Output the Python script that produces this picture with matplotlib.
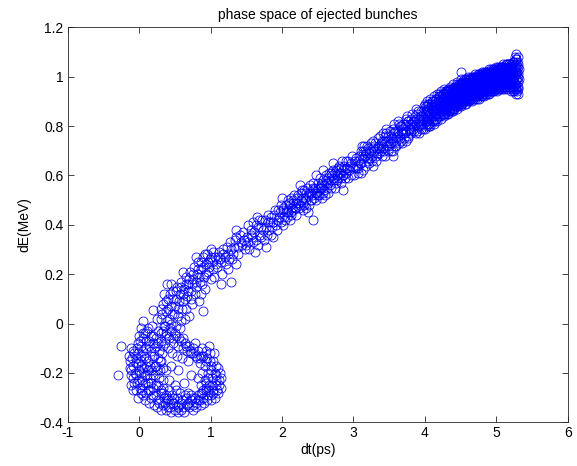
import numpy as np
import matplotlib
matplotlib.use("Agg")
import matplotlib.pyplot as plt
from matplotlib.ticker import FormatStrFormatter

plt.rcParams['font.family'] = ['Liberation Sans', 'DejaVu Sans']
plt.rcParams['axes.unicode_minus'] = False

# --- points (dt in ps, dE in MeV) ---

# left part of the loop
loop_pts = [
    (-0.12, -0.10), (-0.10, -0.14), (-0.13, -0.18), (-0.08, -0.22), (-0.11, -0.25),
    (-0.05, -0.27), (-0.02, -0.30), (-0.07, -0.12), (-0.04, -0.16), (-0.06, -0.20),
    (0.00, -0.05), (0.02, -0.09), (-0.01, -0.12), (0.03, -0.15), (0.00, -0.19),
    (0.04, -0.23), (0.01, -0.26), (0.05, -0.29), (0.08, -0.31), (0.03, -0.02),
    (0.06, -0.06), (0.09, -0.10), (0.07, -0.13), (0.10, -0.17), (0.08, -0.21),
    (0.12, -0.24), (0.10, -0.28), (0.14, -0.32), (0.05, 0.01), (0.11, -0.03),
    (0.14, -0.07), (0.16, -0.11), (0.13, -0.15), (0.17, -0.19), (0.15, -0.22),
    (0.19, -0.26), (0.17, -0.30), (0.21, -0.33), (0.18, -0.01), (0.20, -0.05),
    (0.23, -0.09), (0.21, -0.13), (0.24, -0.17), (0.22, -0.21), (0.26, -0.25),
    (0.24, -0.29), (0.28, -0.32), (0.25, 0.02), (0.27, -0.03), (0.30, -0.07),
    (0.28, -0.11), (0.31, -0.15), (0.29, -0.19), (0.33, -0.23), (0.31, -0.27),
    (0.35, -0.30), (0.32, 0.04), (0.35, -0.01), (0.37, -0.05), (0.34, -0.09),
    (-0.02, -0.08), (0.02, -0.17), (0.06, -0.25), (0.12, -0.19), (0.15, -0.27),
    (0.19, -0.08), (0.26, -0.14), (0.08, -0.04), (-0.09, -0.17), (-0.03, -0.24),
    (-0.09, -0.27), (0.02, -0.28), (-0.14, -0.13), (-0.12, -0.21),
    (-0.13, -0.15), (-0.11, -0.19), (-0.09, -0.11), (-0.07, -0.24), (-0.05, -0.14),
    (-0.04, -0.21), (-0.03, -0.10), (-0.01, -0.16), (0.00, -0.23), (0.01, -0.07),
    (0.02, -0.13), (0.03, -0.20), (0.04, -0.27), (0.05, -0.04), (0.06, -0.11),
    (0.07, -0.18), (0.08, -0.24), (0.09, -0.07), (0.10, -0.14), (0.11, -0.21),
    (0.12, -0.27), (0.13, -0.02), (0.14, -0.09), (0.15, -0.17), (0.16, -0.24),
    (0.17, -0.05), (0.18, -0.13), (0.19, -0.21), (0.20, -0.29), (0.21, -0.10),
    (0.22, -0.17), (0.23, -0.25), (0.24, -0.06), (0.25, -0.19), (0.26, -0.31),
    (0.27, -0.08), (0.28, -0.22), (0.29, -0.15), (0.30, -0.28), (0.31, -0.04),
    (0.32, -0.12), (0.33, -0.26), (0.34, -0.18), (0.36, -0.08), (0.36, -0.32),
]

# bottom and right side of the loop
loop_bottom = [
    (0.30, -0.35), (0.34, -0.33), (0.38, -0.35), (0.40, -0.31), (0.43, -0.34),
    (0.46, -0.29), (0.48, -0.32), (0.50, -0.35), (0.53, -0.30), (0.55, -0.33),
    (0.58, -0.35), (0.60, -0.31), (0.62, -0.34), (0.65, -0.30), (0.67, -0.33),
    (0.70, -0.34), (0.72, -0.31), (0.75, -0.33), (0.78, -0.30), (0.80, -0.32),
    (0.83, -0.29), (0.85, -0.31), (0.88, -0.28), (0.90, -0.30), (0.93, -0.27),
    (0.37, -0.29), (0.42, -0.27), (0.52, -0.27), (0.57, -0.28), (0.68, -0.28),
    (0.25, -0.34), (0.45, -0.36), (0.63, -0.36), (0.76, -0.35), (0.33, -0.28),
    (0.47, -0.32), (0.73, -0.29), (0.87, -0.33), (0.96, -0.29), (0.55, -0.36),
    (0.95, -0.31), (1.00, -0.29), (1.04, -0.27), (1.08, -0.25), (1.12, -0.23),
    (1.15, -0.26), (0.98, -0.25), (1.02, -0.22), (1.06, -0.20), (1.10, -0.18),
    (0.92, -0.23), (0.96, -0.20), (1.00, -0.17), (1.04, -0.15), (1.08, -0.21),
    (0.88, -0.20), (0.92, -0.17), (0.95, -0.14), (0.99, -0.12), (0.85, -0.16),
    (0.90, -0.13), (0.94, -0.11), (1.02, -0.25), (1.11, -0.28), (1.06, -0.30),
    (0.97, -0.27), (0.86, -0.25), (0.83, -0.22), (1.13, -0.20), (1.05, -0.12),
    (0.98, -0.09), (0.89, -0.27), (1.01, -0.31), (0.93, -0.26), (1.07, -0.17),
    (0.39, -0.30), (0.41, -0.34), (0.44, -0.31), (0.49, -0.30), (0.54, -0.34),
    (0.59, -0.32), (0.64, -0.29), (0.69, -0.32), (0.74, -0.30), (0.79, -0.34),
    (0.82, -0.31), (0.86, -0.28), (0.91, -0.32), (0.94, -0.24), (0.97, -0.22),
    (1.01, -0.19), (1.03, -0.28), (1.07, -0.23), (1.09, -0.27), (1.12, -0.25),
    (1.14, -0.22), (0.99, -0.15), (0.93, -0.15), (0.87, -0.13), (0.81, -0.14),
]

# upper edge of the loop and the few points inside it
loop_top = [
    (0.38, -0.04), (0.42, -0.06), (0.45, -0.03), (0.48, -0.08), (0.52, -0.05),
    (0.55, -0.09), (0.58, -0.07), (0.61, -0.10), (0.64, -0.08), (0.67, -0.11),
    (0.70, -0.09), (0.73, -0.12), (0.76, -0.10), (0.79, -0.13), (0.82, -0.11),
    (0.85, -0.14), (0.88, -0.10), (0.40, -0.10), (0.46, -0.12), (0.53, -0.13),
    (0.60, -0.14), (0.78, -0.08), (0.69, -0.15), (0.57, -0.02), (0.44, 0.00),
    (0.75, -0.12), (0.71, -0.11), (0.66, -0.09), (0.62, -0.06), (0.56, -0.06),
    (0.50, -0.04), (0.47, -0.06), (0.43, -0.02),
    (0.45, -0.17), (0.55, -0.19), (0.42, -0.23), (0.72, -0.21), (0.50, -0.25),
    (0.63, -0.24), (0.38, -0.19),
]

# rising band, dt 0.3 .. 1.5
band_low = [
    (0.30, 0.02), (0.33, 0.08), (0.36, -0.01), (0.38, 0.05), (0.40, 0.10),
    (0.42, 0.02), (0.45, 0.07), (0.47, 0.13), (0.49, 0.04), (0.51, 0.10),
    (0.53, 0.15), (0.55, 0.06), (0.57, 0.12), (0.59, 0.17), (0.61, 0.09),
    (0.63, 0.14), (0.65, 0.19), (0.67, 0.11), (0.69, 0.16), (0.71, 0.21),
    (0.73, 0.13), (0.75, 0.18), (0.77, 0.23), (0.79, 0.15), (0.81, 0.20),
    (0.83, 0.25), (0.85, 0.17), (0.87, 0.22), (0.89, 0.27), (0.91, 0.19),
    (0.93, 0.24), (0.95, 0.28), (0.97, 0.21), (0.99, 0.26), (1.01, 0.30),
    (1.03, 0.22), (1.06, 0.27), (1.09, 0.23), (1.12, 0.29), (1.15, 0.25),
    (1.18, 0.30), (1.21, 0.24), (1.24, 0.28), (1.27, 0.33), (1.30, 0.26),
    (1.33, 0.31), (1.36, 0.35), (1.39, 0.28), (1.42, 0.33), (1.45, 0.37),
    (1.48, 0.30), (1.51, 0.35), (0.35, 0.12), (0.58, 0.01), (0.66, 0.06),
    (0.74, 0.08), (0.86, 0.12), (0.92, 0.14), (1.05, 0.19), (1.25, 0.22),
    (0.44, 0.16), (0.62, 0.21), (0.80, 0.27), (1.00, 0.18), (1.16, 0.20),
    (1.35, 0.24), (0.52, -0.01), (0.70, 0.03),
    (0.31, 0.06), (0.34, -0.03), (0.37, 0.09), (0.39, 0.01), (0.41, 0.06),
    (0.43, 0.12), (0.46, 0.04), (0.48, 0.10), (0.50, 0.07), (0.52, 0.13),
    (0.54, 0.03), (0.56, 0.09), (0.58, 0.15), (0.60, 0.06), (0.62, 0.12),
    (0.64, 0.10), (0.66, 0.16), (0.68, 0.13), (0.70, 0.18), (0.72, 0.10),
    (0.74, 0.16), (0.76, 0.20), (0.78, 0.12), (0.80, 0.17), (0.82, 0.22),
    (0.84, 0.19), (0.86, 0.25), (0.88, 0.16), (0.90, 0.23), (0.92, 0.28),
    (0.94, 0.20), (0.96, 0.25), (0.98, 0.23), (1.00, 0.27), (1.02, 0.25),
    (1.04, 0.29), (1.07, 0.24), (1.10, 0.27), (1.13, 0.26), (1.17, 0.28),
    (1.20, 0.27), (1.23, 0.31), (1.26, 0.26), (1.29, 0.30), (1.32, 0.28),
    (1.34, 0.34), (1.38, 0.31), (1.41, 0.36), (1.44, 0.32), (1.47, 0.34),
    (1.50, 0.32), (0.64, 0.02), (0.84, 0.09),
]

# band, dt 1.5 .. 3.0
band_mid = [
    (1.54, 0.30), (1.57, 0.38), (1.60, 0.33), (1.63, 0.40), (1.66, 0.32),
    (1.69, 0.36), (1.72, 0.42), (1.75, 0.34), (1.78, 0.39), (1.81, 0.44),
    (1.84, 0.36), (1.87, 0.41), (1.90, 0.46), (1.93, 0.38), (1.96, 0.43),
    (1.99, 0.48), (2.02, 0.40), (2.05, 0.45), (2.08, 0.50), (2.11, 0.42),
    (2.14, 0.47), (2.17, 0.52), (2.20, 0.44), (2.23, 0.49), (2.26, 0.53),
    (2.29, 0.46), (2.32, 0.51), (2.35, 0.55), (2.38, 0.48), (2.41, 0.53),
    (2.44, 0.57), (2.47, 0.50), (2.50, 0.55), (2.53, 0.59), (2.56, 0.51),
    (2.59, 0.56), (2.62, 0.60), (2.65, 0.53), (2.68, 0.58), (2.71, 0.62),
    (2.74, 0.55), (2.77, 0.60), (2.80, 0.64), (2.83, 0.57), (2.86, 0.62),
    (2.89, 0.66), (2.92, 0.59), (2.95, 0.64), (2.98, 0.68),
    (1.58, 0.35), (1.70, 0.39), (1.83, 0.41), (1.95, 0.46), (2.07, 0.43),
    (2.19, 0.49), (2.31, 0.48), (2.43, 0.54), (2.55, 0.55), (2.67, 0.56),
    (2.79, 0.59), (2.91, 0.63), (1.65, 0.43), (1.88, 0.35), (2.13, 0.51),
    (2.36, 0.45), (2.60, 0.52), (2.84, 0.66), (1.52, 0.40), (1.62, 0.29),
    (2.00, 0.51), (2.25, 0.56), (2.48, 0.60), (2.72, 0.65),
    (1.53, 0.33), (1.56, 0.36), (1.59, 0.41), (1.61, 0.37), (1.64, 0.34),
    (1.67, 0.39), (1.68, 0.42), (1.71, 0.35), (1.73, 0.38), (1.76, 0.42),
    (1.79, 0.36), (1.80, 0.41), (1.82, 0.38), (1.85, 0.43), (1.86, 0.39),
    (1.89, 0.44), (1.91, 0.40), (1.94, 0.42), (1.97, 0.45), (1.98, 0.41),
    (2.01, 0.46), (2.03, 0.43), (2.06, 0.48), (2.09, 0.45), (2.10, 0.49),
    (2.12, 0.44), (2.15, 0.50), (2.16, 0.46), (2.18, 0.47), (2.21, 0.51),
    (2.24, 0.47), (2.27, 0.50), (2.28, 0.54), (2.30, 0.49), (2.33, 0.53),
    (2.34, 0.47), (2.37, 0.52), (2.39, 0.56), (2.40, 0.50), (2.42, 0.52),
    (2.45, 0.51), (2.46, 0.55), (2.49, 0.53), (2.51, 0.57), (2.52, 0.52),
    (2.54, 0.56), (2.57, 0.58), (2.58, 0.53), (2.61, 0.57), (2.63, 0.55),
    (2.64, 0.59), (2.66, 0.61), (2.69, 0.55), (2.70, 0.60), (2.73, 0.58),
    (2.75, 0.62), (2.76, 0.57), (2.78, 0.63), (2.81, 0.61), (2.82, 0.59),
    (2.85, 0.60), (2.87, 0.64), (2.88, 0.59), (2.90, 0.61), (2.93, 0.66),
    (2.94, 0.62), (2.96, 0.60), (2.97, 0.65), (2.99, 0.63), (2.57, 0.62),
    (2.02, 0.47), (2.04, 0.42), (2.07, 0.46), (2.11, 0.48), (2.13, 0.45),
    (2.16, 0.49), (2.20, 0.47), (2.22, 0.52), (2.25, 0.48), (2.29, 0.51),
    (2.31, 0.54), (2.34, 0.50), (2.38, 0.53), (2.41, 0.50), (2.44, 0.55),
    (2.47, 0.53), (2.50, 0.52), (2.53, 0.55), (2.56, 0.57), (2.59, 0.54),
    (2.62, 0.58), (2.65, 0.57), (2.68, 0.61), (2.71, 0.59), (2.74, 0.61),
    (2.77, 0.58), (2.80, 0.61), (2.83, 0.63), (2.86, 0.60), (2.89, 0.63),
]

# band, dt 3.0 .. 4.3
band_high = [
    (3.01, 0.60), (3.04, 0.67), (3.07, 0.63), (3.10, 0.70), (3.13, 0.62),
    (3.16, 0.68), (3.19, 0.72), (3.22, 0.65), (3.25, 0.70), (3.28, 0.74),
    (3.31, 0.66), (3.34, 0.72), (3.37, 0.76), (3.40, 0.68), (3.43, 0.74),
    (3.46, 0.77), (3.49, 0.70), (3.52, 0.76), (3.55, 0.79), (3.58, 0.72),
    (3.61, 0.78), (3.64, 0.81), (3.67, 0.74), (3.70, 0.79), (3.73, 0.83),
    (3.76, 0.76), (3.79, 0.81), (3.82, 0.85), (3.85, 0.78), (3.88, 0.83),
    (3.91, 0.86), (3.94, 0.79), (3.97, 0.84),
    (3.05, 0.64), (3.12, 0.68), (3.20, 0.66), (3.27, 0.71), (3.33, 0.69),
    (3.40, 0.74), (3.47, 0.72), (3.53, 0.73), (3.60, 0.75), (3.66, 0.78),
    (3.72, 0.77), (3.78, 0.79), (3.84, 0.82), (3.90, 0.80), (3.96, 0.82),
    (3.15, 0.72), (3.35, 0.75), (3.55, 0.70), (3.75, 0.84), (3.92, 0.77),
    (3.10, 0.61), (3.45, 0.79), (3.62, 0.82),
    (3.02, 0.66), (3.06, 0.61), (3.08, 0.68), (3.11, 0.65), (3.14, 0.70),
    (3.17, 0.64), (3.18, 0.69), (3.21, 0.71), (3.23, 0.67), (3.26, 0.66),
    (3.29, 0.70), (3.30, 0.73), (3.32, 0.68), (3.36, 0.71), (3.38, 0.73),
    (3.39, 0.70), (3.42, 0.71), (3.44, 0.76), (3.48, 0.74), (3.50, 0.72),
    (3.51, 0.78), (3.54, 0.75), (3.57, 0.77), (3.59, 0.74), (3.63, 0.76),
    (3.65, 0.80), (3.68, 0.77), (3.69, 0.81), (3.71, 0.75), (3.74, 0.80),
    (3.77, 0.82), (3.80, 0.78), (3.81, 0.83), (3.83, 0.80), (3.86, 0.84),
    (3.87, 0.81), (3.89, 0.78), (3.93, 0.83), (3.95, 0.86), (3.98, 0.81),
    (3.24, 0.73), (3.41, 0.77), (3.57, 0.81), (3.73, 0.74), (3.88, 0.87),
    (3.99, 0.88), (3.64, 0.73), (3.44, 0.68), (3.28, 0.64), (3.12, 0.72),
    (3.03, 0.63), (3.06, 0.66), (3.09, 0.65), (3.13, 0.67), (3.16, 0.70),
    (3.19, 0.67), (3.22, 0.69), (3.26, 0.68), (3.29, 0.72), (3.33, 0.71),
    (3.36, 0.69), (3.39, 0.72), (3.43, 0.70), (3.46, 0.74), (3.49, 0.76),
    (3.51, 0.73), (3.53, 0.70), (3.56, 0.74), (3.58, 0.78), (3.60, 0.72),
    (3.62, 0.77), (3.65, 0.75), (3.67, 0.80), (3.68, 0.73), (3.70, 0.77),
    (3.72, 0.81), (3.74, 0.78), (3.76, 0.82), (3.77, 0.75), (3.79, 0.79),
    (3.81, 0.77), (3.82, 0.81), (3.84, 0.79), (3.86, 0.82), (3.87, 0.77),
    (3.89, 0.85), (3.90, 0.82), (3.92, 0.80), (3.94, 0.84), (3.95, 0.81),
    (3.97, 0.79), (3.98, 0.86), (4.01, 0.82), (4.03, 0.86), (4.06, 0.83),
    (4.08, 0.88), (4.11, 0.84), (4.13, 0.89), (4.16, 0.85), (4.18, 0.90),
    (4.21, 0.86), (4.23, 0.91), (4.06, 0.80), (4.14, 0.82), (4.20, 0.93),
]

# dense end of the band, dt 4.0 .. 5.2
band_dt = [4.000, 4.025, 4.050, 4.075, 4.100, 4.125, 4.150, 4.175, 4.200, 4.225,
           4.250, 4.275, 4.300, 4.325, 4.350, 4.375, 4.400, 4.425, 4.450, 4.475,
           4.500, 4.525, 4.550, 4.575, 4.600, 4.625, 4.650, 4.675, 4.700, 4.725,
           4.750, 4.775, 4.800, 4.825, 4.850, 4.875, 4.900, 4.925, 4.950, 4.975,
           5.000, 5.025, 5.050, 5.075, 5.100, 5.125, 5.150, 5.175]
band_dE_low = [0.79, 0.80, 0.81, 0.80, 0.82, 0.81, 0.83, 0.82, 0.84, 0.83,
               0.85, 0.84, 0.86, 0.85, 0.86, 0.87, 0.86, 0.88, 0.87, 0.89,
               0.88, 0.89, 0.90, 0.89, 0.91, 0.90, 0.91, 0.91, 0.92, 0.91,
               0.92, 0.93, 0.92, 0.93, 0.93, 0.94, 0.93, 0.94, 0.95, 0.94,
               0.95, 0.95, 0.96, 0.95, 0.96, 0.96, 0.97, 0.96]
band_dE_mid = [0.85, 0.83, 0.86, 0.85, 0.87, 0.86, 0.88, 0.87, 0.89, 0.88,
               0.90, 0.89, 0.90, 0.91, 0.90, 0.92, 0.91, 0.93, 0.92, 0.93,
               0.94, 0.93, 0.95, 0.94, 0.95, 0.95, 0.96, 0.95, 0.96, 0.96,
               0.97, 0.96, 0.97, 0.98, 0.97, 0.98, 0.98, 0.99, 0.98, 0.99,
               0.99, 1.00, 0.99, 1.00, 1.00, 1.01, 1.00, 1.01]
band_dE_high = [0.89, 0.90, 0.89, 0.91, 0.90, 0.92, 0.91, 0.93, 0.92, 0.94,
                0.93, 0.95, 0.94, 0.95, 0.96, 0.95, 0.97, 0.96, 0.98, 0.97,
                0.99, 0.98, 0.99, 0.99, 1.00, 0.99, 1.00, 1.00, 1.01, 1.00,
                1.01, 1.01, 1.02, 1.01, 1.02, 1.02, 1.03, 1.02, 1.03, 1.03,
                1.04, 1.03, 1.04, 1.04, 1.05, 1.04, 1.05, 1.05]

band_dt2 = [4.012, 4.037, 4.063, 4.088, 4.112, 4.138, 4.162, 4.187, 4.213, 4.238,
            4.262, 4.288, 4.312, 4.337, 4.363, 4.388, 4.412, 4.437, 4.462, 4.487,
            4.512, 4.537, 4.563, 4.588, 4.612, 4.637, 4.662, 4.688, 4.712, 4.737,
            4.763, 4.788, 4.812, 4.837, 4.862, 4.887, 4.912, 4.937, 4.962, 4.988,
            5.012, 5.037, 5.062, 5.088, 5.112, 5.137, 5.162, 5.188]
band2_dE_a = [0.81, 0.82, 0.81, 0.83, 0.82, 0.84, 0.83, 0.85, 0.84, 0.86,
              0.85, 0.86, 0.87, 0.86, 0.88, 0.87, 0.89, 0.88, 0.89, 0.90,
              0.89, 0.91, 0.90, 0.91, 0.92, 0.91, 0.92, 0.93, 0.92, 0.93,
              0.93, 0.94, 0.93, 0.94, 0.95, 0.94, 0.95, 0.95, 0.96, 0.95,
              0.96, 0.96, 0.97, 0.96, 0.97, 0.97, 0.98, 0.97]
band2_dE_b = [0.83, 0.84, 0.85, 0.84, 0.86, 0.85, 0.86, 0.87, 0.87, 0.88,
              0.88, 0.89, 0.88, 0.89, 0.90, 0.90, 0.91, 0.91, 0.92, 0.91,
              0.92, 0.93, 0.93, 0.94, 0.93, 0.94, 0.94, 0.95, 0.95, 0.95,
              0.96, 0.96, 0.96, 0.97, 0.96, 0.97, 0.97, 0.98, 0.97, 0.98,
              0.98, 0.99, 0.98, 0.99, 0.99, 1.00, 0.99, 1.00]
band2_dE_c = [0.86, 0.87, 0.86, 0.88, 0.87, 0.89, 0.88, 0.89, 0.90, 0.90,
              0.91, 0.90, 0.91, 0.92, 0.92, 0.93, 0.93, 0.94, 0.94, 0.95,
              0.95, 0.95, 0.96, 0.96, 0.96, 0.97, 0.96, 0.97, 0.98, 0.97,
              0.98, 0.98, 0.99, 0.98, 0.99, 0.99, 1.00, 0.99, 1.00, 1.00,
              1.01, 1.00, 1.01, 1.01, 1.02, 1.01, 1.02, 1.02]
band2_dE_d = [0.88, 0.88, 0.89, 0.89, 0.90, 0.90, 0.91, 0.91, 0.92, 0.92,
              0.93, 0.93, 0.94, 0.94, 0.94, 0.95, 0.95, 0.96, 0.96, 0.96,
              0.97, 0.97, 0.98, 0.97, 0.98, 0.98, 0.99, 0.99, 0.99, 1.00,
              1.00, 1.00, 1.00, 1.01, 1.01, 1.01, 1.02, 1.01, 1.02, 1.02,
              1.02, 1.03, 1.03, 1.02, 1.03, 1.03, 1.04, 1.03]

# solid part of the band, dt 4.25 .. 5.2
band_dt3 = [4.256, 4.281, 4.306, 4.331, 4.356, 4.381, 4.406, 4.431, 4.456, 4.481,
            4.506, 4.531, 4.556, 4.581, 4.606, 4.631, 4.656, 4.681, 4.706, 4.731,
            4.756, 4.781, 4.806, 4.831, 4.856, 4.881, 4.906, 4.931, 4.956, 4.981,
            5.006, 5.031, 5.056, 5.081, 5.106, 5.131, 5.156, 5.181, 5.206]
band3_dE_e = [0.85, 0.85, 0.85, 0.86, 0.87, 0.86, 0.87, 0.88, 0.88, 0.88,
              0.89, 0.90, 0.89, 0.90, 0.90, 0.91, 0.90, 0.91, 0.91, 0.92,
              0.91, 0.92, 0.93, 0.92, 0.93, 0.93, 0.94, 0.94, 0.94, 0.95,
              0.94, 0.95, 0.95, 0.96, 0.95, 0.96, 0.95, 0.96, 0.96]
band3_dE_f = [0.87, 0.87, 0.88, 0.88, 0.89, 0.89, 0.90, 0.90, 0.90, 0.91,
              0.91, 0.91, 0.92, 0.92, 0.92, 0.93, 0.93, 0.93, 0.94, 0.94,
              0.94, 0.95, 0.95, 0.95, 0.95, 0.96, 0.96, 0.96, 0.97, 0.97,
              0.97, 0.97, 0.97, 0.98, 0.98, 0.98, 0.98, 0.98, 0.99]
band3_dE_g = [0.89, 0.90, 0.90, 0.91, 0.91, 0.91, 0.92, 0.92, 0.93, 0.93,
              0.94, 0.94, 0.94, 0.95, 0.95, 0.95, 0.95, 0.96, 0.96, 0.96,
              0.97, 0.97, 0.97, 0.98, 0.98, 0.98, 0.99, 0.99, 0.99, 0.99,
              1.00, 1.00, 1.00, 1.00, 1.00, 1.01, 1.01, 1.01, 1.00]
band3_dE_h = [0.91, 0.92, 0.92, 0.92, 0.93, 0.93, 0.94, 0.94, 0.95, 0.95,
              0.95, 0.96, 0.96, 0.97, 0.97, 0.97, 0.97, 0.98, 0.98, 0.98,
              0.99, 0.99, 0.99, 1.00, 1.00, 1.00, 1.00, 1.01, 1.01, 1.01,
              1.01, 1.02, 1.02, 1.02, 1.02, 1.03, 1.03, 1.03, 1.02]
band3_dE_i = [0.93, 0.94, 0.94, 0.94, 0.95, 0.95, 0.96, 0.96, 0.97, 0.97,
              0.97, 0.98, 0.98, 0.99, 0.99, 0.99, 0.99, 1.00, 1.00, 1.00,
              1.01, 1.01, 1.01, 1.02, 1.02, 1.02, 1.02, 1.03, 1.03, 1.03,
              1.03, 1.04, 1.04, 1.04, 1.04, 1.05, 1.05, 1.05, 1.04]

band_dt4 = [4.418, 4.443, 4.468, 4.493, 4.518, 4.543, 4.568, 4.593, 4.618, 4.643,
            4.668, 4.693, 4.718, 4.743, 4.768, 4.793, 4.818, 4.843, 4.868, 4.893,
            4.918, 4.943, 4.968, 4.993, 5.018, 5.043, 5.068, 5.093, 5.118, 5.143,
            5.168, 5.193]
band4_dE_j = [0.885, 0.895, 0.895, 0.905, 0.905, 0.915, 0.915, 0.915, 0.925, 0.925,
              0.925, 0.935, 0.935, 0.935, 0.935, 0.945, 0.945, 0.945, 0.955, 0.955,
              0.955, 0.955, 0.965, 0.965, 0.965, 0.965, 0.975, 0.965, 0.975, 0.975,
              0.975, 0.975]
band4_dE_k = [0.915, 0.925, 0.925, 0.935, 0.935, 0.945, 0.945, 0.945, 0.955, 0.955,
              0.955, 0.965, 0.965, 0.965, 0.965, 0.975, 0.975, 0.975, 0.985, 0.985,
              0.985, 0.985, 0.995, 0.995, 0.995, 0.995, 1.005, 0.995, 1.005, 1.005,
              1.005, 1.005]
band4_dE_l = [0.945, 0.955, 0.955, 0.965, 0.965, 0.975, 0.975, 0.975, 0.985, 0.985,
              0.985, 0.995, 0.995, 0.995, 0.995, 1.005, 1.005, 1.005, 1.015, 1.015,
              1.015, 1.015, 1.025, 1.025, 1.025, 1.025, 1.035, 1.025, 1.035, 1.035,
              1.035, 1.035]

# the tip at dt ~ 5.3
tip_pts = [
    (5.20, 0.97), (5.22, 1.02), (5.24, 1.06), (5.26, 1.08), (5.28, 1.07),
    (5.30, 1.05), (5.29, 1.02), (5.27, 0.99), (5.25, 0.96), (5.23, 0.94),
    (5.27, 0.93), (5.30, 0.95), (5.31, 0.98), (5.31, 1.01), (5.30, 1.08),
    (5.28, 1.04), (5.26, 1.01), (5.24, 0.99), (5.22, 1.05), (5.20, 1.03),
    (5.21, 0.94), (5.29, 0.94), (5.25, 1.03), (5.23, 0.98), (5.28, 0.97),
    (5.21, 1.00), (5.23, 1.01), (5.25, 0.98), (5.27, 1.05), (5.29, 0.99),
    (5.31, 1.04), (5.26, 0.95), (5.22, 0.96), (5.28, 1.09), (5.24, 1.02),
    (5.19, 1.00), (5.21, 0.98), (5.23, 1.04), (5.25, 1.06), (5.27, 1.02),
    (5.29, 1.06), (5.31, 0.96), (5.30, 1.00), (5.28, 1.01), (5.26, 0.97),
    (5.24, 0.95), (5.22, 0.99), (5.20, 1.05), (5.32, 1.03), (5.26, 1.04),
    (5.28, 0.95), (5.25, 1.00), (5.27, 0.96), (5.29, 1.03), (5.23, 1.06),
    (5.30, 0.93), (5.27, 1.07), (5.25, 0.94), (5.32, 0.99), (5.21, 1.04),
]

# isolated points
stray_pts = [
    (-0.30, -0.21), (-0.26, -0.09), (0.39, 0.16), (1.28, 0.17), (1.77, 0.31),
    (1.35, 0.38), (2.44, 0.42), (2.85, 0.54), (3.56, 0.68), (0.20, 0.055),
    (0.89, 0.05), (4.50, 1.02), (1.15, 0.16),
]

pts = loop_pts + loop_bottom + loop_top + band_low + band_mid + band_high + tip_pts + stray_pts
dt = [p[0] for p in pts]
dE = [p[1] for p in pts]
for ys in (band_dE_low, band_dE_mid, band_dE_high):
    dt += band_dt
    dE += ys
for ys in (band2_dE_a, band2_dE_b, band2_dE_c, band2_dE_d):
    dt += band_dt2
    dE += ys
for ys in (band3_dE_e, band3_dE_f, band3_dE_g, band3_dE_h, band3_dE_i):
    dt += band_dt3
    dE += ys
for ys in (band4_dE_j, band4_dE_k, band4_dE_l):
    dt += band_dt4
    dE += ys

fig = plt.figure(figsize=(5.77, 4.66), dpi=100)
ax = fig.add_axes([0.1173, 0.0938, 0.8666, 0.8476])

ax.plot(dt, dE, 'o', mfc='none', mec=(0, 0, 1), ms=6.5, mew=0.55)

ax.set_xlim(-1, 6)
ax.set_ylim(-0.4, 1.2)
ax.set_xticks(np.arange(-1, 7, 1))
ax.set_yticks(np.arange(-0.4, 1.21, 0.2))
ax.yaxis.set_major_formatter(FormatStrFormatter('%g'))
ax.xaxis.set_major_formatter(FormatStrFormatter('%g'))
ax.tick_params(direction='in', length=4, width=0.6, top=True, right=True,
               labelsize=10, pad=3, colors='#262626', labelcolor='black')
for s in ax.spines.values():
    s.set_linewidth(0.6)
    s.set_color('#262626')

ax.set_title("phase space of ejected bunches", fontsize=10, pad=6)
ax.set_xlabel("dt(ps)", fontsize=10, labelpad=2)
ax.set_ylabel("dE(MeV)", fontsize=10, labelpad=6)

fig.savefig("out.png", dpi=100)
